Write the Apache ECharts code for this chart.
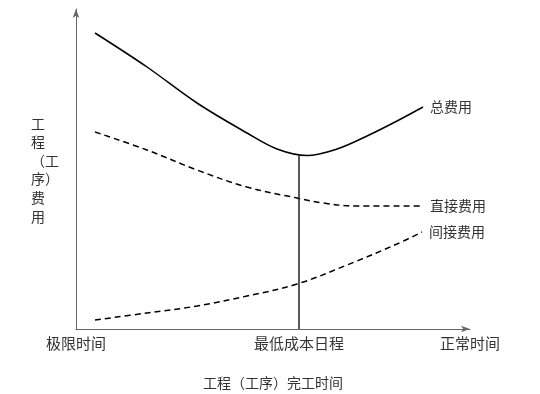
<!DOCTYPE html>
<html><head><meta charset="utf-8">
<script src="https://cdn.jsdelivr.net/npm/echarts@6/dist/echarts.min.js"></script>
<style>html,body{margin:0;padding:0;background:#fff}#c{width:540px;height:394px}</style>
</head><body><div id="c"></div>
<script>
// data units: x = time offset from 极限时间, y = cost (arbitrary units)
const totalCost = [[19,296],[71,262],[121,226],[171,196],[201,180],[231,173.5],[261,180],[291,193],[321,208],[347,222]];
const directCost = [[19,197],[71,179],[121,159],[171,142],[221,131],[247,126],[281,123],[347,123]];
const indirectCost = [[19,9],[71,16],[121,23],[171,33],[221,45],[271,64],[321,85],[346,97]];
const minCostLine = [[223,0],[223,173]];
const xTickValues = [0, 223, 394];
const xTickLabels = ['极限时间', '最低成本日程', '正常时间'];
const seriesNames = ['总费用', '直接费用', '间接费用'];
const yAxisTitleLines = ['工', '程', '（工', '序）', '费', '用'];
const xAxisTitle = '工程（工序）完工时间';
const font = '"Noto Sans CJK SC", sans-serif';

const chart = echarts.init(document.getElementById('c'));
const endLabel = {show:true, formatter:'{a}', distance:7, color:'#333', fontSize:14, fontFamily:font};
chart.setOption({
  animation:false,
  grid:{left:76, right:70, top:9, bottom:65, outerBoundsMode:'none', containLabel:false},
  graphic:[{
    type:'text', left:31, top:114,
    style:{text:yAxisTitleLines.join('\n'), fill:'#333', fontSize:14, lineHeight:18.6,
      fontFamily:font, align:'left'}
  }],
  xAxis:{type:'value', min:0, max:394,
    name:xAxisTitle, nameLocation:'middle', nameGap:47,
    nameTextStyle:{color:'#333', fontSize:14, fontFamily:font},
    axisLine:{show:true, lineStyle:{color:'#666', width:1}, symbol:['none','arrow'], symbolSize:[5,9]},
    axisTick:{show:false}, splitLine:{show:false},
    axisLabel:{customValues:xTickValues, margin:7, color:'#333', fontSize:15, fontFamily:font,
      formatter:(v)=>xTickLabels[xTickValues.indexOf(v)] || ''}
  },
  yAxis:{type:'value', min:0, max:320,
    axisLine:{show:true, lineStyle:{color:'#666', width:1}, symbol:['none','arrow'], symbolSize:[5,9]},
    axisTick:{show:false}, splitLine:{show:false}, axisLabel:{show:false}
  },
  series:[
    {name:seriesNames[0], type:'line', data:totalCost, smooth:0.35, symbol:'none',
      lineStyle:{color:'#000', width:1.5}, endLabel:endLabel},
    {name:seriesNames[1], type:'line', data:directCost, smooth:0.4, symbol:'none',
      lineStyle:{color:'#000', width:1.5, type:[6,4]}, endLabel:endLabel},
    {name:seriesNames[2], type:'line', data:indirectCost, smooth:0.4, symbol:'none',
      lineStyle:{color:'#000', width:1.5, type:[6,4]}, endLabel:endLabel},
    {name:'min', type:'line', data:minCostLine, symbol:'none',
      lineStyle:{color:'#222', width:1.5}}
  ]
});
</script></body></html>
